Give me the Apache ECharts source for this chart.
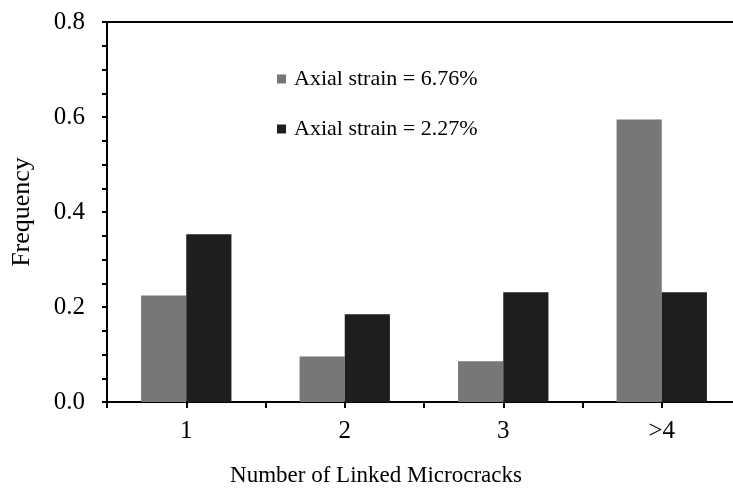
<!DOCTYPE html>
<html>
<head>
<meta charset="utf-8">
<script src="https://cdn.jsdelivr.net/npm/echarts@6/dist/echarts.min.js"></script>
<style>
  html, body { margin: 0; padding: 0; background: #fff; }
  #chart { width: 733px; height: 489px; }
</style>
</head>
<body>
<div id="chart"></div>
<script>
// Frequency of linked microcracks per group size, at two axial strain levels
const categories = ['1', '2', '3', '>4'];
const seriesNames = ['Axial strain = 6.76%', 'Axial strain = 2.27%'];
const strainHigh = [0.224, 0.096, 0.086, 0.595];
const strainLow = [0.353, 0.185, 0.231, 0.231];
const yTicks = { min: 0, max: 0.8, step: 0.2 };

const FONT = 'Liberation Serif';
const barColors = ['#777777', '#1e1e1e'];

const chart = echarts.init(document.getElementById('chart'), null, { renderer: 'canvas' });

const legendBase = {
  orient: 'vertical',
  left: 272,
  icon: 'rect',
  itemWidth: 9,
  itemHeight: 9,
  textStyle: { fontFamily: FONT, fontSize: 22, color: '#000', padding: [0, 0, 0, 3] },
  selectedMode: false
};

chart.setOption({
  animation: false,
  backgroundColor: '#fff',
  // plot area runs a little past the right edge of the canvas
  grid: {
    left: 107, width: 634, top: 22, height: 380,
    containLabel: false, outerBoundsMode: 'none'
  },
  legend: [
    Object.assign({}, legendBase, { top: 63, data: [seriesNames[0]] }),
    Object.assign({}, legendBase, { top: 113, data: [seriesNames[1]] })
  ],
  xAxis: [
    {
      type: 'category',
      data: categories,
      position: 'bottom',
      axisLine: { lineStyle: { color: '#000', width: 2 } },
      axisTick: { show: false },
      axisLabel: { fontFamily: FONT, fontSize: 25, color: '#000', margin: 17 },
      name: 'Number of Linked Microcracks',
      nameLocation: 'middle',
      nameGap: 62,
      nameTextStyle: { fontFamily: FONT, fontSize: 23, color: '#000', padding: [0, 96, 0, 0] }
    },
    {
      // frame line along the top of the plot
      type: 'category',
      data: categories,
      position: 'top',
      axisLine: { lineStyle: { color: '#000', width: 2 } },
      axisTick: { show: false },
      axisLabel: { show: false }
    },
    {
      // tick marks at every category centre and boundary
      type: 'value',
      min: 0,
      max: categories.length * 2,
      interval: 1,
      position: 'bottom',
      axisLine: { show: false },
      axisTick: { show: true, length: 6, lineStyle: { color: '#000', width: 2 } },
      axisLabel: { show: false },
      splitLine: { show: false }
    }
  ],
  yAxis: {
    type: 'value',
    min: yTicks.min,
    max: yTicks.max,
    interval: yTicks.step,
    axisLine: { show: true, lineStyle: { color: '#000', width: 2 } },
    axisTick: { show: true, length: 5, lineStyle: { color: '#000', width: 2 } },
    minorTick: { show: true, splitNumber: 4, length: 5, lineStyle: { color: '#000', width: 2 } },
    splitLine: { show: false },
    axisLabel: {
      fontFamily: FONT, fontSize: 25, color: '#000', margin: 22,
      formatter: v => v.toFixed(1)
    },
    name: 'Frequency',
    nameLocation: 'middle',
    nameGap: 72,
    nameTextStyle: { fontFamily: FONT, fontSize: 26, color: '#000' }
  },
  series: [
    {
      name: seriesNames[0],
      type: 'bar',
      xAxisIndex: 0,
      data: strainHigh,
      barGap: '0%',
      barCategoryGap: '43%',
      itemStyle: { color: barColors[0] }
    },
    {
      name: seriesNames[1],
      type: 'bar',
      xAxisIndex: 0,
      data: strainLow,
      barGap: '0%',
      barCategoryGap: '43%',
      itemStyle: { color: barColors[1] }
    }
  ]
});
</script>
</body>
</html>
